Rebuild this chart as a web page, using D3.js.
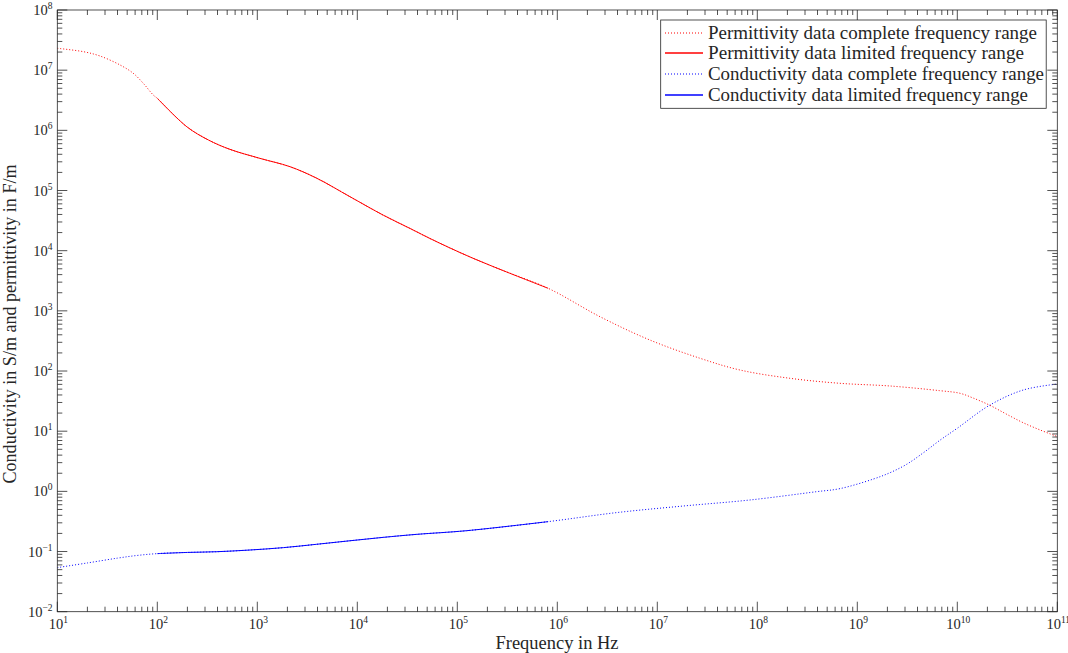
<!DOCTYPE html>
<html><head><meta charset="utf-8">
<script src="https://cdn.jsdelivr.net/npm/d3@7"></script>
<style>
body{margin:0;background:#fff}
svg{display:block}
text{font-family:"Liberation Serif","DejaVu Serif",serif;fill:#262626}
</style>
</head><body>
<svg id="c" width="1068" height="653" font-family="Liberation Serif, DejaVu Serif, serif"></svg>
<script>
// ---- data ----
const permFreq = [10, 18.2, 26.7, 42.4, 57.5, 72.4, 91.2, 100, 197, 324, 533, 1064, 2120, 3930, 8450, 1.82e4, 3.37e4, 5.75e4, 1.24e5, 2.67e5, 8.1e5, 2.67e6, 8.45e6, 2.67e7, 6.7e7, 2.12e8, 6.7e8, 2.12e9, 6.7e9, 1.06e10, 1.445e10, 2.12e10, 3.12e10, 4.57e10, 6.71e10, 1e11];
const permVals = [2.31e7, 2.03e7, 1.72e7, 1.22e7, 8.87e6, 6.05e6, 3.86e6, 3.41e6, 1.15e6, 6.92e5, 4.83e5, 3.42e5, 2.49e5, 1.60e5, 7.89e4, 3.89e4, 2.34e4, 1.50e4, 8.32e3, 4.90e3, 2.37e3, 800, 327, 163, 104, 75.7, 62.5, 56.4, 47.1, 42.7, 35.5, 26.9, 19.1, 13.8, 10.5, 8.13];
const condFreq = [10, 20, 39.8, 63, 100, 200, 393, 845, 1820, 3930, 8450, 1.82e4, 3.93e4, 1.24e5, 8.1e5, 3.93e6, 1.82e7, 8.45e7, 3.93e8, 6.7e8, 1.445e9, 2.12e9, 3.12e9, 4.57e9, 6.71e9, 1e10, 2.12e10, 4.57e10, 1e11];
const condVals = [0.054, 0.0646, 0.0776, 0.0861, 0.0923, 0.0966, 0.0993, 0.106, 0.116, 0.132, 0.151, 0.172, 0.193, 0.222, 0.314, 0.444, 0.571, 0.719, 0.989, 1.11, 1.60, 2.04, 2.82, 4.37, 7.08, 11.2, 27.2, 48.4, 60.8];
const limitedRange = [100, 8.1e5];
const xTickExponents = [1, 2, 3, 4, 5, 6, 7, 8, 9, 10, 11];
const yTickExponents = [-2, -1, 0, 1, 2, 3, 4, 5, 6, 7, 8];
const legendLabels = ["Permittivity data complete frequency range", "Permittivity data limited frequency range", "Conductivity data complete frequency range", "Conductivity data limited frequency range"];
const xTitle = "Frequency in Hz";
const yTitle = "Conductivity in S/m and permittivity in F/m";

// ---- layout ----
const L = 57.3, R = 1057.3, T = 10, B = 611.7;
const axisColor = "#262626";
const FONT = "Liberation Serif, DejaVu Serif, serif";
const svg = d3.select("#c");

const x = d3.scaleLog().domain([1e1, 1e11]).range([L, R]);
const y = d3.scaleLog().domain([1e-2, 1e8]).range([B, T]);

const perm = permFreq.map((f, i) => ({f, v: permVals[i]}));
const cond = condFreq.map((f, i) => ({f, v: condVals[i]}));
const inLim = d => d.f >= limitedRange[0] && d.f <= limitedRange[1];

const line = d3.line().x(d => x(d.f)).y(d => y(d.v)).curve(d3.curveCatmullRom.alpha(0.5));

const series = [
  {data: perm, color: "#ff0000", dash: "1,2"},
  {data: perm.filter(inLim), color: "#ff0000", dash: null},
  {data: cond, color: "#0000ff", dash: "1,2"},
  {data: cond.filter(inLim), color: "#0000ff", dash: null}
];

svg.append("clipPath").attr("id", "clip").append("rect")
  .attr("x", L).attr("y", T).attr("width", R - L).attr("height", B - T);
const lines = svg.append("g").attr("clip-path", "url(#clip)");
series.forEach(s => {
  const p = lines.append("path").attr("d", line(s.data))
    .style("fill", "none").style("stroke", s.color).style("stroke-width", 1);
  if (s.dash) p.style("stroke-dasharray", s.dash);
});

// ---- ticks ----
const majLen = 10, minLen = 5;
const tg = svg.append("g").attr("stroke", axisColor).attr("stroke-width", 0.8);
function ticksFor(exps) {
  const out = [];
  for (let i = 0; i < exps.length; i++) {
    out.push({v: Math.pow(10, exps[i]), major: true});
    if (i < exps.length - 1) for (let m = 2; m <= 9; m++) out.push({v: m * Math.pow(10, exps[i]), major: false});
  }
  return out;
}
ticksFor(xTickExponents).forEach(t => {
  const px = x(t.v), len = t.major ? majLen : minLen;
  tg.append("line").attr("x1", px).attr("x2", px).attr("y1", B).attr("y2", B - len);
  tg.append("line").attr("x1", px).attr("x2", px).attr("y1", T).attr("y2", T + len);
});
ticksFor(yTickExponents).forEach(t => {
  const py = y(t.v), len = t.major ? majLen : minLen;
  tg.append("line").attr("x1", L).attr("x2", L + len).attr("y1", py).attr("y2", py);
  tg.append("line").attr("x1", R).attr("x2", R - len).attr("y1", py).attr("y2", py);
});
svg.append("rect").attr("x", L).attr("y", T).attr("width", R - L).attr("height", B - T)
  .attr("fill", "none").attr("stroke", axisColor).attr("stroke-width", 0.8);

// ---- tick labels ----
function powLabel(g, e) {
  const t = g.append("text").attr("font-family", FONT);
  t.append("tspan").attr("font-size", 14.5).text("10");
  t.append("tspan").attr("font-size", 9.5).attr("dy", -6).text(String(e).replace("-", "\u2212"));
  return t;
}
xTickExponents.forEach(e => {
  const t = powLabel(svg, e);
  t.attr("x", x(Math.pow(10, e)) + 1).attr("y", 628.5).attr("text-anchor", "middle");
});
yTickExponents.forEach(e => {
  const t = powLabel(svg, e);
  t.attr("x", 52.5).attr("y", y(Math.pow(10, e)) + 5).attr("text-anchor", "end");
});

// ---- axis titles ----
svg.append("text").attr("font-family", FONT).attr("x", 557).attr("y", 649).attr("text-anchor", "middle")
  .attr("font-size", 18).attr("textLength", 123).attr("lengthAdjust", "spacingAndGlyphs").text(xTitle);
svg.append("text").attr("font-family", FONT).attr("transform", "translate(16,324) rotate(-90)").attr("text-anchor", "middle")
  .attr("font-size", 18).attr("textLength", 319).attr("lengthAdjust", "spacingAndGlyphs").text(yTitle);

// ---- legend ----
const lg = svg.append("g");
lg.append("rect").attr("x", 660.7).attr("y", 20).attr("width", 385.5).attr("height", 88.3)
  .attr("fill", "#fff").attr("stroke", axisColor).attr("stroke-width", 0.8);
const legendTextWidths = [329, 316, 336, 320];
const legendRowY = [33, 53, 74, 95];
series.forEach((s, i) => {
  const cy = legendRowY[i];
  const ln = lg.append("path").attr("d", `M665,${cy}H703`)
    .style("fill", "none").style("stroke", s.color).style("stroke-width", s.dash ? 1.2 : 1.6);
  if (s.dash) ln.style("stroke-dasharray", s.dash);
  lg.append("text").attr("font-family", FONT).attr("x", 708).attr("y", cy + 5.5).attr("font-size", 18)
    .attr("textLength", legendTextWidths[i]).attr("lengthAdjust", "spacingAndGlyphs").text(legendLabels[i]);
});
</script>
</body></html>
